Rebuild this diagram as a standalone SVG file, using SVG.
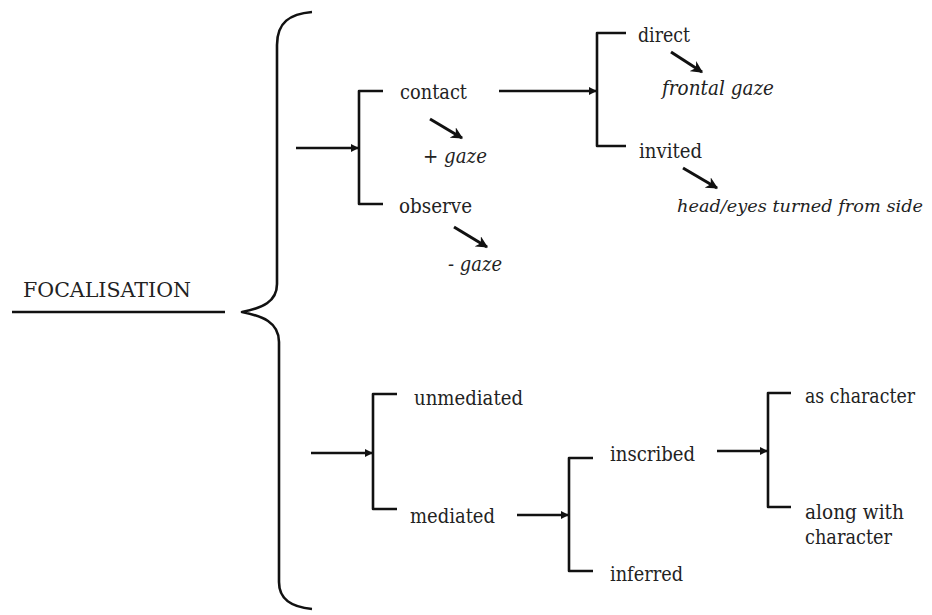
<svg xmlns="http://www.w3.org/2000/svg" width="932" height="615" viewBox="0 0 932 615">
  <style>
    .ln { fill: none; stroke: #111; stroke-width: 2.6; stroke-linecap: butt; stroke-linejoin: round; }
    .dg { fill: none; stroke: #111; stroke-width: 3; }
  </style>
  <defs>
    <marker id="head" viewBox="0 0 10 10" refX="9" refY="5" markerWidth="3.2" markerHeight="3.2" markerUnits="strokeWidth" orient="auto">
      <path d="M0,0 L10,5 L0,10 z" fill="#111"/>
    </marker>
    <marker id="headDiag" viewBox="0 0 10 10" refX="9" refY="5" markerWidth="4" markerHeight="4" markerUnits="strokeWidth" orient="auto">
      <path d="M0,0 L10,5 L0,10 L3,5 z" fill="#111"/>
    </marker>
  </defs>
  <rect width="932" height="615" fill="#fff"/>

  <g font-family="DejaVu Serif, serif" font-size="20" fill="#222">
  <!-- root label -->
  <g id="focalisation">
    <text x="23" y="297" textLength="168" lengthAdjust="spacingAndGlyphs">FOCALISATION</text>
    <path class="ln" d="M12,312 L225,312"/>
  </g>

  <!-- upper branch -->
  <g id="bracket-contact">
    <path class="ln" d="M383,91 L359,91 L359,204 L383,204"/>
  </g>
  <g id="contact"><text x="400" y="99" textLength="67" lengthAdjust="spacingAndGlyphs">contact</text></g>
  <g id="plus-gaze"><text font-style="italic" x="423" y="163" textLength="64" lengthAdjust="spacingAndGlyphs">+ gaze</text></g>
  <g id="observe"><text x="399" y="213" textLength="73" lengthAdjust="spacingAndGlyphs">observe</text></g>
  <g id="minus-gaze"><text font-style="italic" x="448" y="271" textLength="54" lengthAdjust="spacingAndGlyphs">- gaze</text></g>

  <g id="bracket-direct">
    <path class="ln" d="M626,33 L597,33 L597,146 L626,146"/>
  </g>
  <g id="direct"><text x="638" y="42" textLength="52" lengthAdjust="spacingAndGlyphs">direct</text></g>
  <g id="frontal-gaze"><text font-style="italic" x="662" y="95" textLength="112" lengthAdjust="spacingAndGlyphs">frontal gaze</text></g>
  <g id="invited"><text x="639" y="158" textLength="63" lengthAdjust="spacingAndGlyphs">invited</text></g>
  <g id="head-eyes"><text font-style="italic" font-size="16.5" x="677" y="212" textLength="246" lengthAdjust="spacingAndGlyphs">head/eyes turned from side</text></g>

  <!-- lower branch -->
  <g id="bracket-mediation">
    <path class="ln" d="M397,394 L373,394 L373,509 L397,509"/>
  </g>
  <g id="unmediated"><text x="414" y="405" textLength="109" lengthAdjust="spacingAndGlyphs">unmediated</text></g>
  <g id="mediated"><text x="410" y="523" textLength="85" lengthAdjust="spacingAndGlyphs">mediated</text></g>

  <g id="bracket-inscribed">
    <path class="ln" d="M593,458 L569,458 L569,571 L593,571"/>
  </g>
  <g id="inscribed"><text x="610" y="461" textLength="85" lengthAdjust="spacingAndGlyphs">inscribed</text></g>
  <g id="inferred"><text x="610" y="581" textLength="73" lengthAdjust="spacingAndGlyphs">inferred</text></g>

  <g id="bracket-character">
    <path class="ln" d="M791,393 L768,393 L768,507 L791,507"/>
  </g>
  <g id="as-character"><text x="805" y="403" textLength="110" lengthAdjust="spacingAndGlyphs">as character</text></g>
  <g id="along-with-character">
    <text x="805" y="519" textLength="99" lengthAdjust="spacingAndGlyphs">along with</text>
    <text x="805" y="544" textLength="87" lengthAdjust="spacingAndGlyphs">character</text>
  </g>
  </g>

  <!-- main curly brace -->
  <g id="brace-main">
    <path class="ln" d="M312,12 C290,14 277,22 277,45 L277,284 C277,302 262,308 242,312 C262,316 279,322 279,342 L279,582 C279,600 292,607 312,609"/>
  </g>

  <!-- connectors -->
  <g id="connectors">
    <path class="ln" d="M296,148 L358,148" marker-end="url(#head)"/>
    <path class="ln" d="M499,91 L596,91" marker-end="url(#head)"/>
    <path class="ln" d="M311,453 L372,453" marker-end="url(#head)"/>
    <path class="ln" d="M517,515 L568,515" marker-end="url(#head)"/>
    <path class="ln" d="M717,451 L767,451" marker-end="url(#head)"/>
    <path class="dg" d="M430,119 L462,138" marker-end="url(#headDiag)"/>
    <path class="dg" d="M454,227 L487,247" marker-end="url(#headDiag)"/>
    <path class="dg" d="M671,52 L702,72" marker-end="url(#headDiag)"/>
    <path class="dg" d="M683,168 L717,188" marker-end="url(#headDiag)"/>
  </g>
</svg>
